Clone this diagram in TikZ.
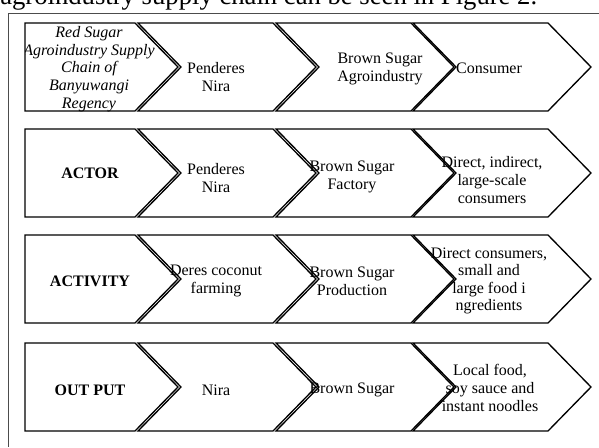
\documentclass[tikz,border=0pt]{standalone}
\usepackage{fontspec}
\setmainfont{Liberation Serif}
\tikzstyle{chevron} = [draw, line width=1pt, line join=miter]
\tikzstyle{cell} = [align=center, inner sep=0pt, font=\fontsize{12}{13.2}\selectfont]
\tikzstyle{rowname} = [cell, font=\fontsize{12}{13.2}\selectfont\bfseries]
\tikzstyle{frame} = [draw=black!70, line width=0.7pt]

\begin{document}
\begin{tikzpicture}[x=0.75pt, y=-0.75pt]
    \useasboundingbox (0,0) rectangle (599,447);
    \node [anchor=base west, inner sep=0pt, font=\fontsize{20}{22}\selectfont] (intro) at (0,4) {agroindustry supply chain can be seen in Figure 2.};
    \draw [frame] (599,13) -- (8,13) -- (8,447);

    \begin{scope}
        \clip (25,23) -- (135,23) -- (178,67) -- (135,111) -- (25,111) -- cycle;
        \node [cell, font=\fontsize{12}{13.2}\selectfont\itshape] (chain) at (89,69) {Red Sugar\\Agroindustry Supply\\Chain of\\Banyuwangi\\Regency};
    \end{scope}
    \node [cell] (tapper1) at (216,77) {Penderes\\Nira};
    \node [cell] (industry) at (380,69) {Brown Sugar\\Agroindustry};
    \node [cell] (consumer) at (489,68) {Consumer};

    \node [rowname] (actor) at (90,173) {ACTOR};
    \node [cell] (tapper2) at (216,178) {Penderes\\Nira};
    \node [cell] (factory) at (352,177) {Brown Sugar\\Factory};
    \node [cell] (buyers) at (492,180) {Direct, indirect,\\large-scale\\consumers};

    \node [rowname] (activity) at (90,281) {ACTIVITY};
    \node [cell] (farming) at (216,281) {Deres coconut\\farming};
    \node [cell] (production) at (352,281) {Brown Sugar\\Production};
    \node [cell] (users) at (489,281) {Direct consumers,\\small and\\large food i\\ngredients};

    \node [rowname] (output) at (90,390) {OUT PUT};
    \node [cell] (nira) at (216,390) {Nira};
    \node [cell] (sugar) at (352,390) {Brown Sugar};
    \node [cell] (products) at (490,388) {Local food,\\soy sauce and\\instant noodles};

    \foreach \t in {23,129,235,343} {
        \draw [chevron] (25,\t) -- ++(110,0) -- ++(43,44) -- ++(-43,44) -- ++(-110,0) -- cycle;
        \foreach \l in {138,276,413}
            \draw [chevron] (\l,\t) -- ++(135,0) -- ++(43,44) -- ++(-43,44) -- ++(-135,0) -- ++(43,-44) -- cycle;
    }
\end{tikzpicture}
\end{document}
